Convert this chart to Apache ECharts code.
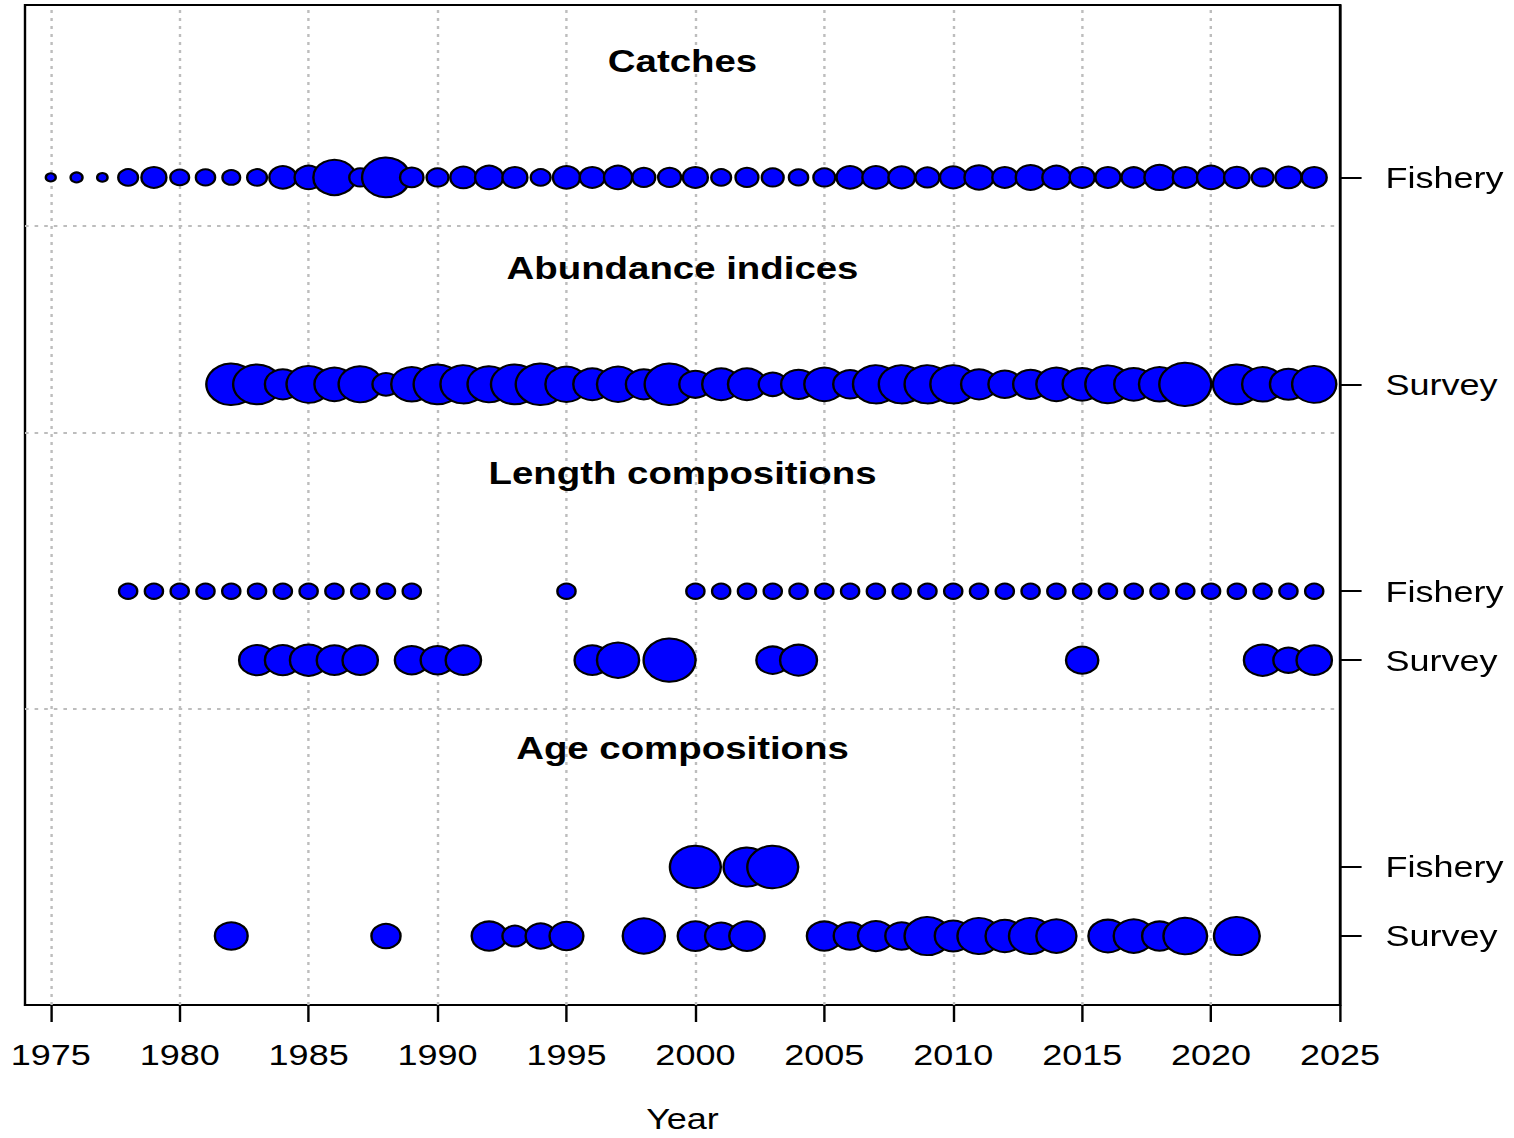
<!DOCTYPE html>
<html>
<head>
<meta charset="utf-8">
<script src="https://cdn.jsdelivr.net/npm/echarts@6/dist/echarts.min.js"></script>
<style>
html,body{margin:0;padding:0;background:#fff;overflow:hidden}
#wrap{width:1514px;height:1138px;overflow:hidden}
#chart{height:1138px;transform-origin:0 0}
</style>
</head>
<body>
<div id="wrap"><div id="chart"></div></div>
<script>
// ---------------- DATA ----------------
const yearTicks = [1975, 1980, 1985, 1990, 1995, 2000, 2005, 2010, 2015, 2020, 2025];
const panelTitles = ['Catches', 'Abundance indices', 'Length compositions', 'Age compositions'];
const rowFleets = ['Fishery', 'Survey', 'Fishery', 'Survey', 'Fishery', 'Survey'];

// relative magnitudes (1 = largest circle)
const catchYears = [1975,1976,1977,1978,1979,1980,1981,1982,1983,1984,1985,1986,1987,1988,1989,1990,1991,1992,1993,1994,1995,1996,1997,1998,1999,2000,2001,2002,2003,2004,2005,2006,2007,2008,2009,2010,2011,2012,2013,2014,2015,2016,2017,2018,2019,2020,2021,2022,2023,2024];
const catchFishery = [0.19,0.23,0.20,0.38,0.48,0.36,0.37,0.34,0.38,0.52,0.54,0.81,0.42,0.92,0.45,0.42,0.50,0.54,0.48,0.38,0.52,0.48,0.54,0.44,0.44,0.48,0.38,0.44,0.42,0.37,0.42,0.52,0.52,0.51,0.46,0.51,0.56,0.48,0.57,0.54,0.48,0.48,0.47,0.58,0.48,0.54,0.49,0.42,0.50,0.48];

const abundYears = [1982,1983,1984,1985,1986,1987,1988,1989,1990,1991,1992,1993,1994,1995,1996,1997,1998,1999,2000,2001,2002,2003,2004,2005,2006,2007,2008,2009,2010,2011,2012,2013,2014,2015,2016,2017,2018,2019,2021,2022,2023,2024];
const abundSurvey = [0.96,0.92,0.69,0.85,0.77,0.83,0.52,0.79,0.92,0.88,0.83,0.92,0.96,0.81,0.73,0.81,0.69,0.96,0.62,0.73,0.73,0.54,0.67,0.77,0.65,0.88,0.88,0.88,0.88,0.69,0.63,0.67,0.77,0.75,0.87,0.75,0.79,1.00,0.92,0.79,0.71,0.85];

const lenFisheryYears = [1978,1979,1980,1981,1982,1983,1984,1985,1986,1987,1988,1989,1995,2000,2001,2002,2003,2004,2005,2006,2007,2008,2009,2010,2011,2012,2013,2014,2015,2016,2017,2018,2019,2020,2021,2022,2023,2024];
const lenFishery = [0.35,0.35,0.35,0.35,0.35,0.35,0.35,0.35,0.35,0.35,0.35,0.35,0.35,0.35,0.35,0.35,0.35,0.35,0.35,0.35,0.35,0.35,0.35,0.35,0.35,0.35,0.35,0.35,0.35,0.35,0.35,0.35,0.35,0.35,0.35,0.35,0.35,0.35];

const lenSurveyYears = [1983,1984,1985,1986,1987,1989,1990,1991,1996,1997,1999,2003,2004,2015,2022,2023,2024];
const lenSurvey = [0.69,0.69,0.72,0.68,0.68,0.65,0.65,0.68,0.68,0.81,1.00,0.63,0.71,0.62,0.72,0.58,0.68];

const ageFisheryYears = [2000,2002,2003];
const ageFishery = [0.98,0.90,0.98];

const ageSurveyYears = [1982,1988,1992,1993,1994,1995,1998,2000,2001,2002,2005,2006,2007,2008,2009,2010,2011,2012,2013,2014,2016,2017,2018,2019,2021];
const ageSurvey = [0.63,0.56,0.67,0.48,0.58,0.65,0.81,0.68,0.62,0.68,0.67,0.63,0.69,0.63,0.88,0.71,0.83,0.74,0.83,0.77,0.75,0.77,0.67,0.84,0.88];

// ---------------- LAYOUT ----------------
const S = 1.2;                 // horizontal stretch of the original figure
const W = 1514 / S;
const ROW_POS = [11, 8, 5, 4, 1, 0];
const TITLE_POS = [12.69, 9.69, 6.72, 2.73];
const SEP_POS = [10.3, 7.3, 3.3];
const MAX_D = 52 / S;
const FONT = '"Liberation Sans", Arial, Helvetica, sans-serif';

const el = document.getElementById('chart');
el.style.width = W + 'px';
el.style.transform = 'scaleX(' + S + ')';
const chart = echarts.init(el, null, { renderer: 'svg', width: W, height: 1138 });

const rows = [
  [catchYears, catchFishery],
  [abundYears, abundSurvey],
  [lenFisheryYears, lenFishery],
  [lenSurveyYears, lenSurvey],
  [ageFisheryYears, ageFishery],
  [ageSurveyYears, ageSurvey]
];

const bubbleSeries = rows.map((r, k) => ({
  type: 'scatter',
  name: rowFleets[k],
  z: 3,
  silent: true,
  emphasis: { disabled: true },
  symbol: 'circle',
  symbolSize: v => v[2] * MAX_D,
  itemStyle: { color: '#0000ff', borderColor: '#000', borderWidth: 2, opacity: 1 },
  data: r[0].map((y, i) => [y, ROW_POS[k], r[1][i]])
}));

const option = {
  animation: false,
  backgroundColor: '#fff',
  textStyle: { fontFamily: FONT },
  grid: {
    left: 25 / S, top: 5, width: 1315 / S, height: 1000,
    outerBoundsMode: 'none', containLabel: false,
    show: true, borderColor: '#000', borderWidth: 2, backgroundColor: 'transparent'
  },
  xAxis: {
    type: 'value', min: 1974, max: 2025,
    name: 'Year', nameLocation: 'middle', nameGap: 99,
    nameTextStyle: { fontSize: 30, color: '#000', fontFamily: FONT },
    axisLine: { show: true, onZero: false, lineStyle: { color: '#000', width: 2 } },
    axisTick: { show: true, customValues: yearTicks, length: 17, lineStyle: { color: '#000', width: 2 } },
    axisLabel: { customValues: yearTicks, fontSize: 30, color: '#000', margin: 35, fontFamily: FONT, formatter: v => String(v) },
    splitLine: { show: false }
  },
  yAxis: {
    type: 'value', position: 'right', min: -1, max: 13.5,
    axisLine: { show: true, lineStyle: { color: '#000', width: 2 } },
    axisTick: { show: true, customValues: ROW_POS, length: 18, lineStyle: { color: '#000', width: 2 } },
    axisLabel: {
      customValues: ROW_POS, fontSize: 30, color: '#000', margin: 38, fontFamily: FONT,
      formatter: v => { const i = ROW_POS.indexOf(v); return i >= 0 ? rowFleets[i] : ''; }
    },
    splitLine: { show: false }
  },
  series: [
    {
      type: 'scatter', data: [], z: 1, silent: true,
      markLine: {
        z: 1, silent: true, symbol: 'none', animation: false,
        label: { show: false },
        emphasis: { disabled: true },
        lineStyle: { color: '#bdbdbd', width: 2, type: [3, 5] },
        data: yearTicks.filter(y => y < 2025).map(x => ({ xAxis: x })).concat(SEP_POS.map(y => ({ yAxis: y })))
      }
    },
    {
      type: 'custom', z: 2, silent: true,
      data: panelTitles.map((t, i) => [1999.5, TITLE_POS[i], i]),
      renderItem: (params, api) => {
        const p = api.coord([api.value(0), api.value(1)]);
        return {
          type: 'text', x: p[0], y: p[1],
          style: {
            text: panelTitles[api.value(2)], fill: '#000',
            font: 'bold 32px ' + FONT, align: 'center', verticalAlign: 'middle'
          }
        };
      }
    }
  ].concat(bubbleSeries)
};
chart.setOption(option);
</script>
</body>
</html>
